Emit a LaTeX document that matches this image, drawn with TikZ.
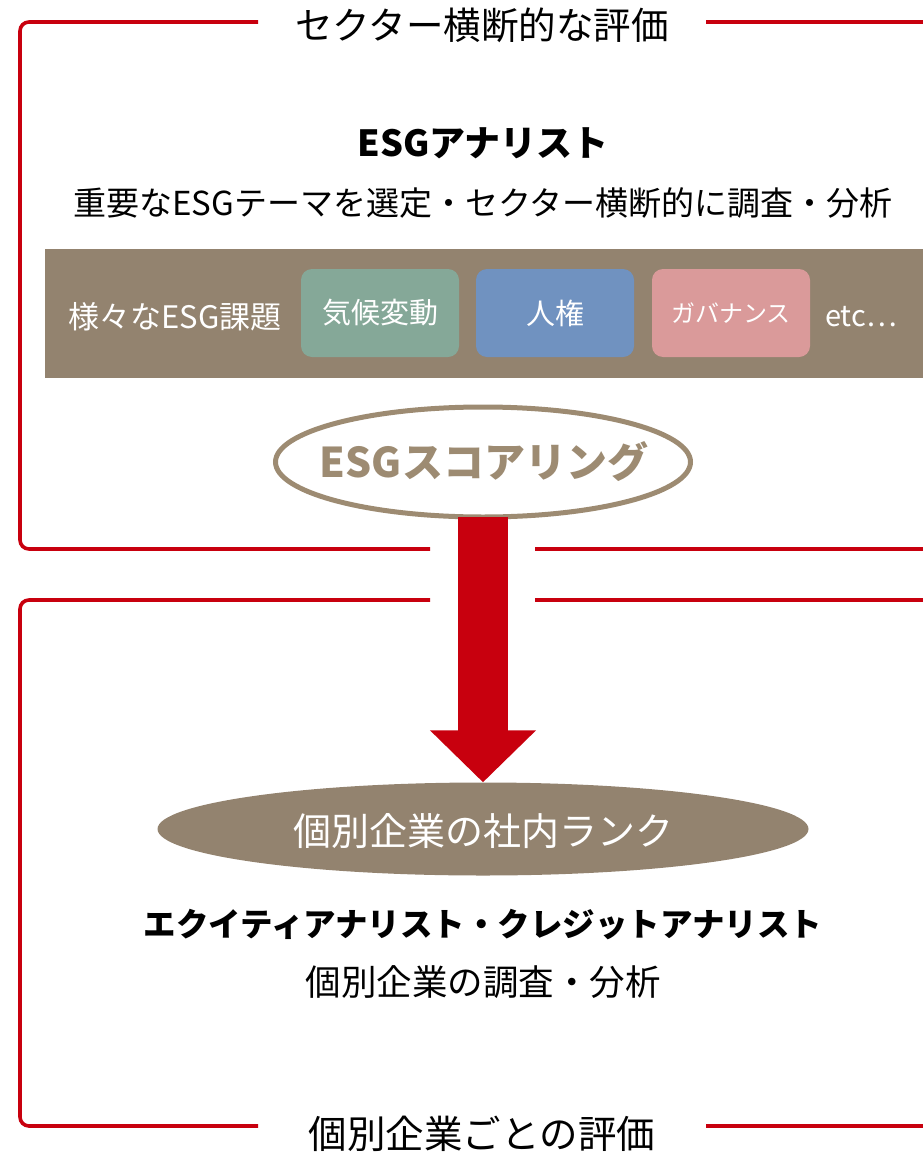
\documentclass[tikz,border=0pt]{standalone}
\usepackage{fontspec}
\setmainfont{Noto Sans CJK JP}
\usetikzlibrary{shapes.geometric,arrows.meta}
\definecolor{framered}{RGB}{200,0,14}
\definecolor{band}{RGB}{147,131,111}
\definecolor{scorec}{RGB}{157,139,114}
\definecolor{greenbox}{RGB}{133,168,152}
\definecolor{bluebox}{RGB}{112,146,192}
\definecolor{pinkbox}{RGB}{218,154,154}
\newcommand{\fs}[1]{\fontsize{#1}{#1}\selectfont}
\tikzset{
  frame/.style={draw=framered, line width=3.6pt, rounded corners=9pt},
  txt/.style={inner sep=0pt, text=black},
  issue/.style={rounded corners=11pt, minimum width=158pt, minimum height=88pt, inner sep=0pt, text=white, font=\fs{29}},
}
\begin{document}
\begin{tikzpicture}[x=1pt,y=-1pt]
\useasboundingbox (0,0) rectangle (923,1156);
% frames
\draw[frame] (258,22) -- (20,22) -- (20,549) -- (430,549);
\draw[frame] (706,22) -- (930,22);
\draw[frame] (535,549) -- (930,549);
\draw[frame] (430,600) -- (20,600) -- (20,1126) -- (258,1126);
\draw[frame] (535,600) -- (930,600);
\draw[frame] (706,1126) -- (930,1126);
% titles
\node[txt, font=\fs{37.5}] (t1) at (482,25) {セクター横断的な評価};
\node[txt, font=\fs{38.5}] (t2) at (482,1134) {個別企業ごとの評価};
% top texts
\node[txt, font=\fs{36}\bfseries] (esga) at (483,143) {ESGアナリスト};
\node[txt, font=\fs{33}] (esgd) at (483,203) {重要なESGテーマを選定・セクター横断的に調査・分析};
% band
\node[fill=band, minimum width=880pt, minimum height=129pt, inner sep=0pt, anchor=north west] (bandn) at (45,249) {};
\node[txt, text=white, font=\fs{31}] (various) at (175,317) {様々なESG課題};
\node[issue, fill=greenbox] (climate) at (380,313) {\raisebox{-3pt}{気候変動}};
\node[issue, fill=bluebox] (human) at (555,313) {\raisebox{-3pt}{人権}};
\node[issue, fill=pinkbox, font=\fs{24}] (gov) at (731,313) {\raisebox{-3pt}{ガバナンス}};
\node[txt, text=white, font=\fs{29}] (etc) at (861,317) {etc…};
% arrow and ellipses
\node[ellipse, fill=band, minimum width=651pt, minimum height=93pt, inner sep=0pt] (rank) at (483,829) {};
\node[ellipse, draw=scorec, line width=5pt, fill=white, minimum width=415pt, minimum height=110pt, inner sep=0pt] (score) at (483,462) {};
\draw[framered, line width=50pt, -{Triangle[length=52pt,width=103pt]}] ([yshift=3pt]score.south) -- (rank.north);
\node[txt, text=scorec, font=\fs{41}\bfseries] (scoret) at (484,462) {ESGスコアリング};
\node[txt, text=white, font=\fs{38}] (rankt) at (483,831) {個別企業の社内ランク};
% bottom texts
\node[txt, font=\fs{32.5}\bfseries] (eqa) at (483,925) {エクイティアナリスト・クレジットアナリスト};
\node[txt, font=\fs{35.5}] (eqd) at (483,982) {個別企業の調査・分析};
\end{tikzpicture}
\end{document}
